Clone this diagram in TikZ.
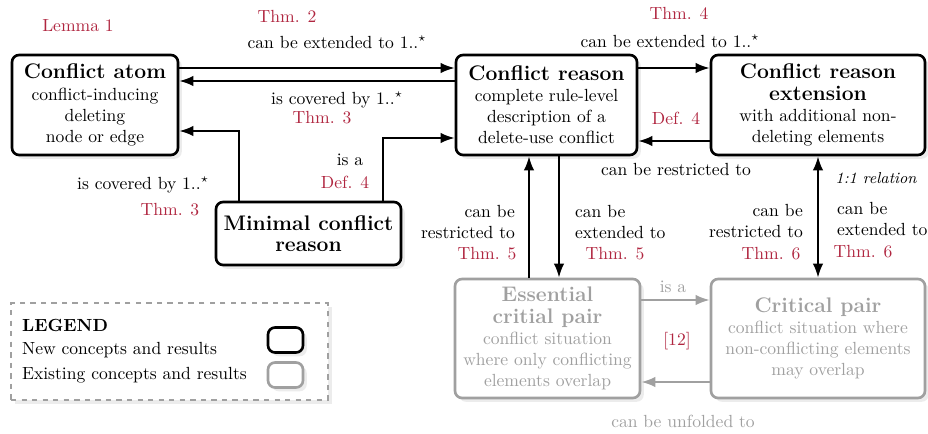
\documentclass[tikz,border=0pt]{standalone}
\usetikzlibrary{arrows.meta,shadows}
\definecolor{thmred}{RGB}{176,38,64}
\definecolor{oldgray}{RGB}{160,160,160}
\begin{document}
\begin{tikzpicture}[x=0.02cm, y=-0.02cm, >={Latex[length=8pt,width=6pt]},
  newbox/.style={draw, line width=1.5pt, rounded corners=4pt, fill=white, align=center, inner sep=2pt, drop shadow={opacity=0.15}},
  oldbox/.style={newbox, draw=oldgray, text=oldgray},
  arr/.style={->, line width=1.2pt},
  oldarr/.style={arr, draw=oldgray},
  lbl/.style={inner sep=1pt},
  thm/.style={lbl, text=thmred}]
\useasboundingbox (0,0) rectangle (928,433);
% concept boxes
\node[newbox, minimum width=3.32cm, minimum height=2cm] (atom) at (95,105)
  {{\large\bfseries Conflict atom}\\conflict-inducing\\deleting\\node or edge};
\node[newbox, minimum width=3.62cm, minimum height=2cm] (reason) at (546.5,105)
  {{\large\bfseries Conflict reason}\\complete rule-level\\description of a\\delete-use conflict};
\node[newbox, minimum width=4.28cm, minimum height=2cm] (ext) at (818,105)
  {{\large\bfseries Conflict reason}\\{\large\bfseries extension}\\with additional non-\\deleting elements};
\node[newbox, minimum width=3.7cm, minimum height=1.26cm] (minimal) at (308.5,233.5)
  {{\large\bfseries Minimal conflict}\\{\large\bfseries reason}};
\node[oldbox, minimum width=3.7cm, minimum height=2.38cm] (essential) at (547.5,338.5)
  {{\large\bfseries Essential}\\{\large\bfseries critial pair}\\conflict situation\\where only conflicting\\elements overlap};
\node[oldbox, minimum width=4.28cm, minimum height=2.38cm] (critical) at (818,338.5)
  {{\large\bfseries Critical pair}\\conflict situation where\\non-conflicting elements\\may overlap};
% legend
\node[draw=oldgray, dashed, line width=1pt, minimum width=6.34cm, minimum height=1.94cm, fill=white, drop shadow={opacity=0.15}] (legend) at (169.5,351.5) {};
\node[lbl, anchor=west] (legtitle) at (20,325) {\bfseries LEGEND};
\node[lbl, anchor=west] (legnew) at (20,350) {New concepts and results};
\node[lbl, anchor=west] (legold) at (20,375) {Existing concepts and results};
\node[newbox, minimum width=0.7cm, minimum height=0.5cm] (legnewbox) at (285.5,340) {};
\node[oldbox, minimum width=0.7cm, minimum height=0.5cm] (legoldbox) at (285.5,375) {};
% connectors
\draw[arr] (atom.east |- 0,68) -- (reason.west |- 0,68);
\draw[arr] (reason.west |- 0,81) -- (atom.east |- 0,81);
\draw[arr] (minimal.north -| 239,0) |- (atom.east |- 0,131);
\draw[arr] (minimal.north -| 383,0) |- (reason.west |- 0,138);
\draw[arr] (reason.east |- 0,68) -- (ext.west |- 0,68);
\draw[arr] (ext.west |- 0,141) -- (reason.east |- 0,141);
\draw[arr] (essential.north -| 529,0) -- (reason.south -| 529,0);
\draw[arr] (reason.south -| 559,0) -- (essential.north -| 559,0);
\draw[arr, <->] (critical.north) -- (ext.south);
\draw[oldarr] (essential.east |- 0,300) -- (critical.west |- 0,300);
\draw[oldarr] (critical.west |- 0,382) -- (essential.east |- 0,382);
% labels
\node[thm] (lemma1) at (78,26) {Lemma 1};
\node[thm] (thm2) at (287,16) {Thm. 2};
\node[lbl] (extto1) at (337,42) {can be extended to 1..$^\star$};
\node[lbl] (cov1) at (337,100) {is covered by 1..$^\star$};
\node[thm] (thm3a) at (322,118) {Thm. 3};
\node[lbl] (cov2) at (143,185) {is covered by 1..$^\star$};
\node[thm] (thm3b) at (170,210) {Thm. 3};
\node[lbl] (isa1) at (350,160) {is a};
\node[thm] (def4a) at (345,182) {Def. 4};
\node[thm] (thm4) at (679,13) {Thm. 4};
\node[lbl] (extto2) at (670,41) {can be extended to 1..$^\star$};
\node[thm] (def4b) at (676,118) {Def. 4};
\node[lbl] (restr1) at (676,169) {can be restricted to};
\node[lbl] (oneone) at (876,178) {\itshape\small 1:1 relation};
\node[lbl, anchor=east, align=right] (restr2) at (517,222) {can be\\restricted to};
\node[thm] (thm5a) at (487,254) {Thm. 5};
\node[lbl, anchor=west, align=left] (extto3) at (573,222) {can be\\extended to};
\node[thm] (thm5b) at (615,254) {Thm. 5};
\node[lbl, anchor=east, align=right] (restr3) at (805,221) {can be\\restricted to};
\node[thm] (thm6a) at (771,254) {Thm. 6};
\node[lbl, anchor=west, align=left] (extto4) at (835,219) {can be\\extended to};
\node[thm] (thm6b) at (863,252) {Thm. 6};
\node[lbl, text=oldgray] (isa2) at (673,287) {is a};
\node[thm] (cite12) at (677,341) {[12]};
\node[lbl, text=oldgray] (unfold) at (683,421) {can be unfolded to};
\end{tikzpicture}
\end{document}
